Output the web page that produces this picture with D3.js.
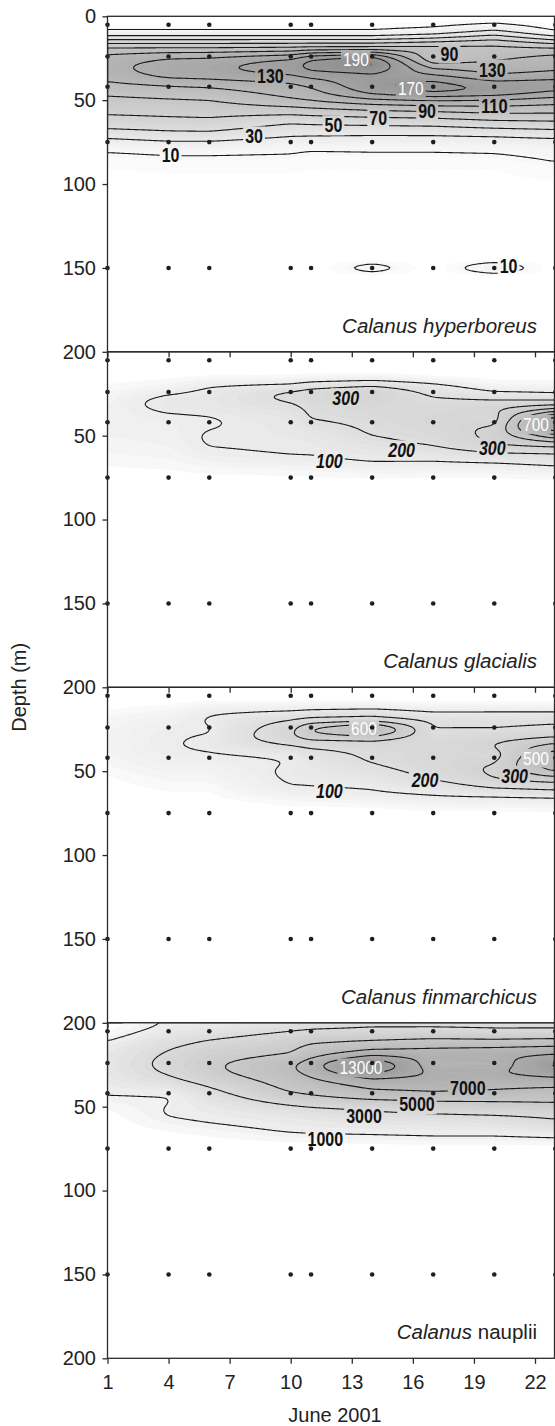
<!DOCTYPE html>
<html>
<head>
<meta charset="utf-8">
<script src="https://cdn.jsdelivr.net/npm/d3@7"></script>
<style>
	body { margin: 0; background: #fff; }
	svg { display: block; }
	text { font-family: "Liberation Sans", Arial, sans-serif; fill: #222; }
</style>
</head>
<body>
<script>
// station days (June 2001) and the depth rows of the value grids
const days = [1, 4, 6, 10, 11, 14, 17, 20, 23];
const depths = [0, 5, 10, 15, 20, 25, 30, 35, 40, 45, 50, 55, 60, 65, 70, 75, 80, 90, 100, 146, 150, 154, 200];
const stationDepths = [5, 24, 42, 75, 150];
const dayTicks = [1, 4, 7, 10, 13, 16, 19, 22];
const depthTicks = [0, 50, 100, 150, 200];

// abundance, one array per station day, top to bottom over depths
const hyperboreus = [
	[0, 3, 12, 62, 100, 118, 125, 118, 108, 95, 85, 76, 68, 57, 40, 22, 10, 4, 2, 0, 0, 0, 0],
	[0, 3, 12, 62, 100, 132, 142, 140, 114, 100, 88, 78, 70, 60, 45, 28, 12, 5, 2, 0, 0, 0, 0],
	[0, 3, 12, 62, 100, 134, 146, 142, 118, 102, 90, 80, 71, 61, 46, 28, 12, 5, 2, 0, 0, 0, 0],
	[0, 3, 12, 62, 102, 150, 168, 150, 128, 118, 108, 85, 64, 46, 35, 20, 11, 5, 2, 0, 0, 0, 0],
	[0, 3, 12, 62, 105, 172, 180, 160, 135, 125, 112, 88, 66, 48, 33, 21, 9, 4, 2, 0, 0, 0, 0],
	[0, 3, 12, 62, 105, 190, 198, 160, 170, 160, 125, 95, 70, 50, 32, 20, 10, 4, 2, 0, 25, 0, 0],
	[0, 5, 20, 70, 108, 85, 125, 150, 180, 178, 130, 100, 72, 52, 32, 20, 10, 4, 2, 0, 0, 0, 0],
	[0, 10, 40, 80, 100, 105, 120, 128, 160, 172, 125, 105, 78, 58, 35, 20, 11, 4, 2, 0, 34, 0, 0],
	[0, 2, 10, 60, 100, 118, 125, 135, 165, 150, 118, 102, 80, 60, 40, 22, 14, 8, 3, 0, 0, 0, 0]
];
const glacialis = [
	[0, 0, 0, 5, 20, 40, 55, 65, 70, 68, 60, 50, 40, 28, 15, 6, 0, 0, 0, 0, 0, 0, 0],
	[0, 0, 0, 10, 40, 95, 140, 110, 80, 75, 70, 62, 50, 35, 20, 8, 0, 0, 0, 0, 0, 0, 0],
	[0, 0, 0, 15, 95, 125, 135, 120, 90, 95, 110, 105, 90, 60, 30, 10, 0, 0, 0, 0, 0, 0, 0],
	[0, 0, 0, 20, 110, 240, 205, 160, 140, 130, 120, 112, 108, 80, 40, 12, 0, 0, 0, 0, 0, 0, 0],
	[0, 0, 0, 25, 150, 270, 240, 215, 205, 160, 130, 115, 108, 85, 45, 15, 0, 0, 0, 0, 0, 0, 0],
	[0, 0, 0, 30, 190, 320, 270, 250, 230, 215, 205, 160, 125, 108, 60, 18, 0, 0, 0, 0, 0, 0, 0],
	[0, 0, 0, 5, 130, 180, 230, 250, 270, 260, 240, 215, 150, 100, 60, 15, 0, 0, 0, 0, 0, 0, 0],
	[0, 0, 0, 5, 40, 120, 230, 300, 250, 320, 330, 310, 200, 110, 60, 15, 0, 0, 0, 0, 0, 0, 0],
	[0, 0, 0, 5, 40, 100, 220, 450, 820, 850, 560, 340, 210, 130, 80, 25, 0, 0, 0, 0, 0, 0, 0]
];
const finmarchicus = [
	[0, 0, 5, 20, 35, 45, 50, 50, 45, 35, 20, 10, 5, 0, 0, 0, 0, 0, 0, 0, 0, 0, 0],
	[0, 0, 10, 40, 70, 85, 92, 95, 85, 70, 50, 35, 20, 10, 0, 0, 0, 0, 0, 0, 0, 0, 0],
	[0, 0, 20, 95, 110, 90, 110, 115, 95, 70, 50, 35, 20, 10, 0, 0, 0, 0, 0, 0, 0, 0, 0],
	[0, 0, 20, 120, 210, 280, 290, 190, 110, 100, 115, 110, 95, 50, 15, 0, 0, 0, 0, 0, 0, 0, 0],
	[0, 0, 20, 140, 230, 450, 330, 220, 150, 130, 120, 110, 100, 55, 15, 0, 0, 0, 0, 0, 0, 0, 0],
	[0, 0, 20, 160, 240, 650, 330, 240, 220, 205, 160, 120, 105, 85, 20, 0, 0, 0, 0, 0, 0, 0, 0],
	[0, 0, 15, 105, 190, 200, 230, 250, 260, 270, 240, 205, 130, 100, 40, 5, 0, 0, 0, 0, 0, 0, 0],
	[0, 0, 15, 110, 180, 200, 260, 320, 250, 300, 320, 300, 200, 100, 40, 5, 0, 0, 0, 0, 0, 0, 0],
	[0, 0, 10, 110, 190, 220, 300, 450, 560, 600, 520, 330, 230, 110, 45, 8, 0, 0, 0, 0, 0, 0, 0]
];
const nauplii = [
	[0, 200, 900, 1500, 1800, 1900, 1800, 1500, 1200, 900, 400, 150, 50, 0, 0, 0, 0, 0, 0, 0, 0, 0, 0],
	[1000, 1600, 2300, 2900, 3300, 3500, 3200, 2500, 1300, 900, 1050, 1100, 700, 300, 100, 0, 0, 0, 0, 0, 0, 0, 0],
	[1200, 2000, 3000, 3700, 4300, 4700, 4500, 3600, 2700, 2000, 1600, 1300, 1000, 500, 200, 0, 0, 0, 0, 0, 0, 0, 0],
	[2000, 3000, 4000, 4700, 5200, 6900, 6500, 5800, 5300, 4200, 2700, 1800, 1400, 1100, 400, 0, 0, 0, 0, 0, 0, 0, 0],
	[2200, 3200, 4500, 5500, 6500, 8500, 7500, 6500, 5600, 4600, 3000, 2000, 1500, 1150, 500, 0, 0, 0, 0, 0, 0, 0, 0],
	[2500, 3400, 4800, 6500, 9000, 14200, 11000, 8000, 7000, 5300, 3400, 2600, 1700, 1200, 600, 0, 0, 0, 0, 0, 0, 0, 0],
	[2500, 3400, 5200, 7000, 8500, 7500, 9000, 8000, 7500, 5500, 4000, 2800, 1800, 1300, 700, 0, 0, 0, 0, 0, 0, 0, 0],
	[2500, 3200, 5000, 7200, 8800, 7500, 9200, 7500, 7200, 5500, 4200, 3000, 2000, 1300, 700, 0, 0, 0, 0, 0, 0, 0, 0],
	[2500, 3200, 5200, 7500, 9500, 12000, 10000, 8000, 6500, 5500, 4500, 3200, 2800, 1500, 800, 0, 0, 0, 0, 0, 0, 0, 0]
];

// contour levels that get a line
const hyperboreusLevels = [10, 30, 50, 70, 90, 110, 130, 150, 170, 190];
const glacialisLevels = [100, 200, 300, 400, 500, 600, 700, 800];
const finmarchicusLevels = [100, 200, 300, 400, 500, 600];
const naupliiLevels = [1000, 3000, 5000, 7000, 9000, 11000, 13000];

// contour labels: day, depth, text
const hyperboreusLabels = [
	[13.2, 25.7, "190"], [15.9, 43, "170"], [9.0, 35.6, "130"], [19.9, 31.6, "130"],
	[17.8, 22.1, "90"], [20.0, 53.5, "110"], [16.7, 56.5, "90"], [14.3, 60.3, "70"],
	[12.1, 64.9, "50"], [8.2, 71.5, "30"], [4.1, 82.8, "10"], [20.7, 148.9, "10"]
];
const glacialisLabels = [
	[12.7, 27.6, "300"], [15.45, 58.6, "200"], [19.9, 57, "300"], [11.9, 65, "100"], [22.05, 43.1, "700"]
];
const finmarchicusLabels = [
	[13.6, 24.6, "600"], [22.05, 42, "500"], [16.6, 54.9, "200"], [21.0, 52.5, "300"], [11.9, 61.8, "100"]
];
const naupliiLabels = [
	[13.45, 26.7, "13000"], [18.7, 39, "7000"], [16.2, 48.5, "5000"], [13.6, 55.5, "3000"], [11.7, 69.2, "1000"]
];

const speciesNames = ["hyperboreus", "glacialis", "finmarchicus", "nauplii"];

const width = 555;
const height = 1426;
const plotLeft = 107.5;
const plotRight = 554.5;
const panelTop = 16.3;
const panelHeight = 335.5;
const step = 1.5;

const panels = [
	{ grid: hyperboreus, levels: hyperboreusLevels, labels: hyperboreusLabels, species: speciesNames[0],
	  fillStep: 4, shade: [15, 20, 0.9], italicLabels: false },
	{ grid: glacialis, levels: glacialisLevels, labels: glacialisLabels, species: speciesNames[1],
	  fillStep: 20, shade: [13, 50, 0.68], italicLabels: true },
	{ grid: finmarchicus, levels: finmarchicusLevels, labels: finmarchicusLabels, species: speciesNames[2],
	  fillStep: 16, shade: [13, 50, 0.68], italicLabels: true },
	{ grid: nauplii, levels: naupliiLevels, labels: naupliiLabels, species: speciesNames[3],
	  fillStep: 350, shade: [17, 1000, 0.73], italicLabels: false }
];

document.addEventListener("DOMContentLoaded", function() {
	const svg = d3.select("body")
		.append("svg")
		.attr("width", width)
		.attr("height", height);

	const x = d3.scaleLinear()
		.domain([1, 22])
		.range([plotLeft, 535]);

	panels.forEach(function(p, k) {
		drawPanel(svg, p, k, x);
	});

	// shared axis titles
	svg.append("text")
		.attr("transform", "translate(19," + (panelTop + 2 * panelHeight) + ") rotate(-90)")
		.attr("text-anchor", "middle")
		.attr("dy", "0.35em")
		.style("font-size", "20px")
		.text("Depth (m)");

	svg.append("text")
		.attr("x", 335)
		.attr("y", 1421.7)
		.attr("text-anchor", "middle")
		.style("font-size", "20px")
		.text("June 2001");
});

/**
 * bilinear value of a station grid at a given day and depth
 */
function valueAt(grid, day, depth) {
	let i = Math.max(0, Math.min(days.length - 2, d3.bisectRight(days, day) - 1));
	let j = Math.max(0, Math.min(depths.length - 2, d3.bisectRight(depths, depth) - 1));
	const tx = Math.max(0, Math.min(1, (day - days[i]) / (days[i + 1] - days[i])));
	const ty = Math.max(0, Math.min(1, (depth - depths[j]) / (depths[j + 1] - depths[j])));
	const top = grid[i][j] * (1 - tx) + grid[i + 1][j] * tx;
	const bottom = grid[i][j + 1] * (1 - tx) + grid[i + 1][j + 1] * tx;
	return top * (1 - ty) + bottom * ty;
}

/**
 * draw one species panel: shaded contours, contour lines, labels, stations and axes
 */
function drawPanel(svg, p, k, x) {
	const top = panelTop + k * panelHeight;
	const y = d3.scaleLinear().domain([0, 200]).range([top, top + panelHeight]);
	const plotW = plotRight - plotLeft;

	const nx = Math.ceil(plotW / step);
	const ny = Math.ceil(panelHeight / step);
	let values = new Float64Array(nx * ny);
	for (let j = 0; j < ny; j++) {
		for (let i = 0; i < nx; i++) {
			const px = plotLeft + (i + 0.5) * step;
			const py = top + (j + 0.5) * step;
			values[j * nx + i] = valueAt(p.grid, x.invert(px), y.invert(py));
		}
	}
	if (d3.blur2) {
		values = d3.blur2({ data: values, width: nx, height: ny }, 2).data;
	}

	const path = d3.geoPath(d3.geoIdentity().scale(step).translate([plotLeft, top]));
	const maxVal = d3.max(values);

	// grey level: darker with abundance
	const shade = function(v) {
		const drop = p.shade[0] * Math.pow(Math.max(v, 0) / p.shade[1], p.shade[2]);
		const g = Math.round(Math.max(0, 255 - drop));
		return d3.rgb(g, g, g).toString();
	};

	const defs = svg.append("defs");
	defs.append("clipPath")
		.attr("id", "clip" + k)
		.append("rect")
		.attr("x", plotLeft)
		.attr("y", top)
		.attr("width", plotW)
		.attr("height", panelHeight);

	const mask = defs.append("mask")
		.attr("id", "gap" + k)
		.attr("maskUnits", "userSpaceOnUse")
		.attr("x", 0).attr("y", 0)
		.attr("width", width).attr("height", height);
	mask.append("rect")
		.attr("x", 0).attr("y", 0)
		.attr("width", width).attr("height", height)
		.attr("fill", "white");

	const g = svg.append("g").attr("clip-path", "url(#clip" + k + ")");

	const fillLevels = d3.range(p.fillStep, maxVal, p.fillStep);
	g.append("g")
		.selectAll("path")
		.data(d3.contours().size([nx, ny]).thresholds(fillLevels)(values))
		.enter()
		.append("path")
		.attr("d", path)
		.attr("fill", function(d) { return shade(d.value); })
		.attr("stroke", function(d) { return shade(d.value); })
		.attr("stroke-width", 0.3);

	g.append("g")
		.attr("mask", "url(#gap" + k + ")")
		.selectAll("path")
		.data(d3.contours().size([nx, ny]).thresholds(p.levels)(values))
		.enter()
		.append("path")
		.attr("d", path)
		.attr("fill", "none")
		.attr("stroke", "#1a1a1a")
		.attr("stroke-width", 1.1);

	// contour labels, white on the dark cores, squeezed like a narrow face
	const topLabel = d3.max(p.labels, function(d) { return +d[2]; });
	const labelG = g.append("g");
	p.labels.forEach(function(d) {
		const light = +d[2] >= 0.75 * topLabel;
		const t = labelG.append("text")
			.attr("x", x(d[0]))
			.attr("y", y(d[1]))
			.attr("dy", "0.36em")
			.attr("text-anchor", "middle")
			.attr("textLength", d[2].length * (light ? 8.6 : 8.9))
			.attr("lengthAdjust", "spacingAndGlyphs")
			.style("font-size", light ? "19px" : "20px")
			.style("font-weight", light ? "normal" : "bold")
			.style("font-style", p.italicLabels && !light ? "italic" : "normal")
			.style("fill", light ? "#fff" : "#111")
			.text(d[2]);
		const b = t.node().getBBox();
		mask.append("rect")
			.attr("x", b.x - 2)
			.attr("y", b.y + 1)
			.attr("width", b.width + 4)
			.attr("height", b.height - 2)
			.attr("fill", "black");
	});

	// sampling stations
	const stations = [];
	days.forEach(function(d) {
		stationDepths.forEach(function(z) { stations.push([d, z]); });
	});
	svg.append("g")
		.selectAll("circle")
		.data(stations)
		.enter()
		.append("circle")
		.attr("cx", function(d) { return x(d[0]); })
		.attr("cy", function(d) { return y(d[1]); })
		.attr("r", 2.3)
		.attr("fill", "#1e1e1e");

	// frame
	svg.append("rect")
		.attr("x", plotLeft)
		.attr("y", top)
		.attr("width", plotW)
		.attr("height", panelHeight)
		.attr("fill", "none")
		.attr("stroke", "#2b2b2b")
		.attr("stroke-width", 1.3);

	// depth axis
	const yAxis = svg.append("g")
		.attr("transform", "translate(" + plotLeft + ",0)")
		.call(d3.axisLeft(y)
			.tickValues(k === 0 ? depthTicks : depthTicks.slice(1))
			.tickSize(5)
			.tickPadding(6.5));
	yAxis.select(".domain").remove();
	yAxis.selectAll("line").attr("stroke", "#2b2b2b").attr("stroke-width", 1.3);
	yAxis.selectAll("text").style("font-size", "20px").style("font-family", "'Liberation Sans', Arial, sans-serif").attr("fill", "#222");

	// day axis
	const last = k === panels.length - 1;
	const xAxis = svg.append("g")
		.attr("transform", "translate(0," + (top + panelHeight) + ")")
		.call(d3.axisBottom(x)
			.tickValues(dayTicks)
			.tickSize(5.5)
			.tickPadding(11)
			.tickFormat(last ? d3.format("d") : function() { return ""; }));
	xAxis.select(".domain").remove();
	xAxis.selectAll("line").attr("stroke", "#2b2b2b").attr("stroke-width", 1.3);
	xAxis.selectAll("text").style("font-size", "20px").style("font-family", "'Liberation Sans', Arial, sans-serif").attr("fill", "#222");

	// species name
	const name = svg.append("text")
		.attr("x", 537)
		.attr("y", top + panelHeight - 19)
		.attr("text-anchor", "end")
		.style("font-size", "20.5px");
	name.append("tspan").style("font-style", "italic").text("Calanus");
	if (p.species === "nauplii") {
		name.append("tspan").text(" nauplii");
	} else {
		name.append("tspan").style("font-style", "italic").text(" " + p.species);
	}
}
</script>
</body>
</html>
